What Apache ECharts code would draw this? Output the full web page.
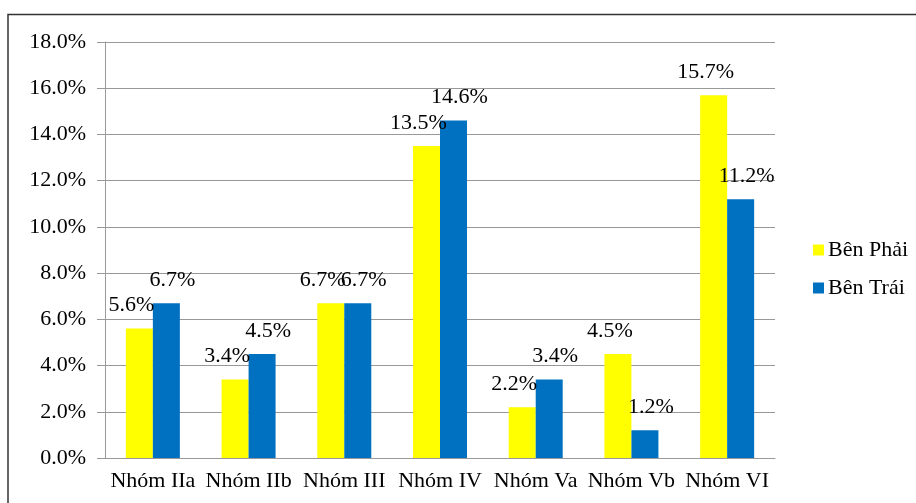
<!DOCTYPE html>
<html lang="vi">
<head>
    <meta charset="UTF-8">
    <title>Nhóm</title>
    <script src="https://cdn.jsdelivr.net/npm/echarts@6/dist/echarts.min.js"></script>
    <style>
        html, body { margin: 0; padding: 0; background: #fff; }
        #main { width: 916px; height: 503px; }
    </style>
</head>
<body>
<div id="main"></div>
<script type="text/javascript">
    // du lieu
    var categories = ['Nhóm IIa', 'Nhóm IIb', 'Nhóm III', 'Nhóm IV', 'Nhóm Va', 'Nhóm Vb', 'Nhóm VI'];
    var benPhai = [5.6, 3.4, 6.7, 13.5, 2.2, 4.5, 15.7];
    var benTrai = [6.7, 4.5, 6.7, 14.6, 3.4, 1.2, 11.2];
    var seriesNames = ['Bên Phải', 'Bên Trái'];

    var font = '"Liberation Serif", "Times New Roman", serif';
    var myChart = echarts.init(document.getElementById('main'));

    var option = {
        animation: false,
        textStyle: { fontFamily: font },
        graphic: [{
            type: 'rect',
            shape: { x: 8, y: 14.5, width: 920, height: 500 },
            style: { fill: 'none', stroke: '#333', lineWidth: 1.5 }
        }],
        legend: {
            orient: 'vertical',
            left: 808,
            top: 234,
            itemWidth: 11,
            itemHeight: 11,
            itemGap: 16,
            icon: 'rect',
            data: seriesNames,
            textStyle: { fontFamily: font, fontSize: 22, color: '#000', padding: [0, 0, 0, -1] }
        },
        grid: { left: 105, right: 141, top: 42, bottom: 45 },
        xAxis: {
            type: 'category',
            data: categories,
            axisLine: { lineStyle: { color: '#999' } },
            axisTick: { length: 6, lineStyle: { color: '#999' } },
            axisLabel: { fontFamily: font, fontSize: 22, color: '#000', margin: 12, interval: 0 }
        },
        yAxis: {
            type: 'value',
            min: 0,
            max: 18,
            interval: 2,
            axisLine: { show: true, lineStyle: { color: '#999' } },
            axisTick: { show: true, length: 8, lineStyle: { color: '#999' } },
            axisLabel: {
                fontFamily: font, fontSize: 22, color: '#000', margin: 19,
                formatter: function (v) { return v.toFixed(1) + '%'; }
            },
            splitLine: { lineStyle: { color: '#999' } }
        },
        series: [
            {
                name: seriesNames[0],
                type: 'bar',
                data: benPhai,
                barWidth: 27,
                barGap: '0%',
                itemStyle: { color: '#FFFF00' },
                label: {
                    show: true, position: 'top', distance: 12, offset: [-8, 0],
                    fontFamily: font, fontSize: 22, color: '#000',
                    formatter: function (p) { return p.value.toFixed(1) + '%'; }
                }
            },
            {
                name: seriesNames[1],
                type: 'bar',
                data: benTrai,
                barWidth: 27,
                barGap: '0%',
                itemStyle: { color: '#0070C0' },
                label: {
                    show: true, position: 'top', distance: 12, offset: [6, 0],
                    fontFamily: font, fontSize: 22, color: '#000',
                    formatter: function (p) { return p.value.toFixed(1) + '%'; }
                }
            }
        ]
    };

    myChart.setOption(option);
</script>
</body>
</html>
